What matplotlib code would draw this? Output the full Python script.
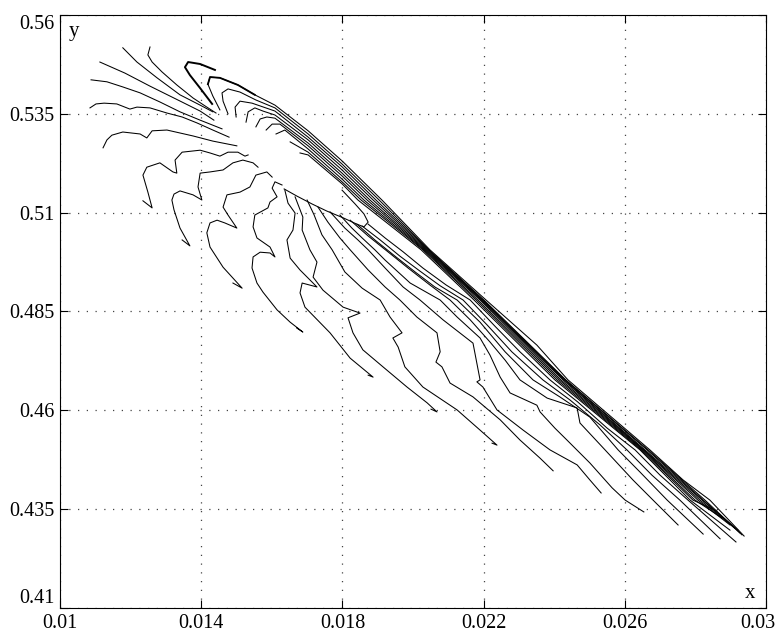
import matplotlib.pyplot as plt
from matplotlib.transforms import ScaledTranslation

plt.rcParams['font.family'] = ['Liberation Serif', 'DejaVu Serif']

# axis ticks
x_ticks = [0.01, 0.014, 0.018, 0.022, 0.026, 0.03]
x_labels = ['0.01', '0.014', '0.018', '0.022', '0.026', '0.03']
y_ticks = [0.41, 0.435, 0.46, 0.485, 0.51, 0.535, 0.56]
y_labels = ['0.41', '0.435', '0.46', '0.485', '0.51', '0.535', '0.56']

# --- trajectories coming in from the far left (end on the hole edge)
l1_x = [0.01178, 0.01218, 0.01275, 0.01340, 0.01397, 0.01433]
l1_y = [0.5517, 0.5481, 0.5441, 0.5398, 0.5372, 0.5355]
l2_x = [0.01255, 0.01249, 0.01261, 0.01289, 0.01331, 0.01377, 0.01416, 0.01442]
l2_y = [0.5519, 0.5499, 0.5481, 0.5456, 0.5423, 0.5390, 0.5367, 0.5352]
l3_x = [0.01113, 0.01184, 0.01255, 0.01334, 0.01397, 0.01436]
l3_y = [0.5481, 0.5453, 0.5420, 0.5385, 0.5357, 0.5334]
l4_x = [0.01088, 0.01133, 0.01178, 0.01227, 0.01283, 0.01340, 0.01397, 0.01459]
l4_y = [0.5436, 0.5431, 0.5418, 0.5403, 0.5380, 0.5355, 0.5334, 0.5312]
l5_x = [0.01085, 0.01102, 0.01125, 0.01161, 0.01198, 0.01218, 0.01255, 0.01303,
        0.01346, 0.01388, 0.01433, 0.01479]
l5_y = [0.5365, 0.5375, 0.5377, 0.5375, 0.5362, 0.5367, 0.5365, 0.5352,
        0.5342, 0.5327, 0.5309, 0.5291]
l6_x = [0.01122, 0.01133, 0.01147, 0.01178, 0.01227, 0.01246, 0.01261, 0.01303,
        0.01377, 0.01433, 0.01501]
l6_y = [0.5264, 0.5284, 0.5296, 0.5304, 0.5299, 0.5289, 0.5307, 0.5309,
        0.5294, 0.5281, 0.5269]

# --- wiggly trajectories below the hole, ending bottom-left to bottom-right
m1_x = [0.01235, 0.01261, 0.01249, 0.01235, 0.01246, 0.01283, 0.01320, 0.01331, 0.01326,
        0.01346, 0.01397, 0.01425, 0.01453, 0.01476, 0.01504, 0.01524, 0.01533]
m1_y = [0.5130, 0.5112, 0.5152, 0.5195, 0.5215, 0.5226, 0.5203, 0.5200, 0.5233,
        0.5253, 0.5258, 0.5251, 0.5243, 0.5253, 0.5253, 0.5243, 0.5246]
m2_x = [0.01346, 0.01368, 0.01340, 0.01323, 0.01317, 0.01323, 0.01340, 0.01377, 0.01402,
        0.01391, 0.01397, 0.01425, 0.01462, 0.01490, 0.01518, 0.01547, 0.01561]
m2_y = [0.5031, 0.5016, 0.5061, 0.5107, 0.5132, 0.5147, 0.5155, 0.5145, 0.5132,
        0.5165, 0.5200, 0.5203, 0.5208, 0.5226, 0.5233, 0.5226, 0.5215]
m3_x = [0.01490, 0.01516, 0.01462, 0.01425, 0.01416, 0.01425, 0.01445, 0.01467, 0.01501,
        0.01476, 0.01462, 0.01473, 0.01510, 0.01538, 0.01555, 0.01586, 0.01601]
m3_y = [0.4922, 0.4909, 0.4962, 0.5013, 0.5049, 0.5074, 0.5081, 0.5074, 0.5061,
        0.5094, 0.5114, 0.5145, 0.5152, 0.5165, 0.5195, 0.5203, 0.5190]
m4_x = [0.01671, 0.01688, 0.01652, 0.01615, 0.01575, 0.01558, 0.01544, 0.01547, 0.01567,
        0.01595, 0.01609, 0.01595, 0.01558, 0.01547, 0.01552, 0.01589, 0.01595, 0.01615,
        0.01601, 0.01609, 0.01629]
m4_y = [0.4808, 0.4798, 0.4823, 0.4854, 0.4899, 0.4922, 0.4960, 0.4988, 0.5000,
        0.4998, 0.4988, 0.5013, 0.5036, 0.5064, 0.5094, 0.5112, 0.5127, 0.5140,
        0.5162, 0.5178, 0.5170]
m5_x = [0.01873, 0.01887, 0.01822, 0.01765, 0.01694, 0.01680, 0.01686, 0.01728, 0.01680,
        0.01652, 0.01643, 0.01660, 0.01666, 0.01646, 0.01637]
m5_y = [0.4689, 0.4684, 0.4732, 0.4796, 0.4861, 0.4897, 0.4922, 0.4912, 0.4955,
        0.4985, 0.5031, 0.5056, 0.5099, 0.5124, 0.5157]
m6_x = [0.01666, 0.01688, 0.01686, 0.01708, 0.01728, 0.01717, 0.01745, 0.01802, 0.01850,
        0.01816, 0.01830, 0.01858, 0.01915, 0.01983, 0.02040, 0.02068, 0.02051]
m6_y = [0.5140, 0.5089, 0.5056, 0.5006, 0.4975, 0.4937, 0.4904, 0.4861, 0.4846,
        0.4834, 0.4796, 0.4753, 0.4710, 0.4659, 0.4619, 0.4596, 0.4603]
m7_x = [0.01700, 0.01720, 0.01742, 0.01771, 0.01807, 0.01856, 0.01907, 0.01935, 0.01969,
        0.01943, 0.01958, 0.01977, 0.02028, 0.02125, 0.02190, 0.02238, 0.02224]
m7_y = [0.5132, 0.5094, 0.5044, 0.5006, 0.4950, 0.4909, 0.4879, 0.4836, 0.4796,
        0.4783, 0.4760, 0.4710, 0.4659, 0.4601, 0.4550, 0.4512, 0.4517]
m8_x = [0.01731, 0.01759, 0.01793, 0.01822, 0.01873, 0.01921, 0.01963, 0.02011, 0.02068,
        0.02077, 0.02065, 0.02082, 0.02105, 0.02170, 0.02247, 0.02303, 0.02360, 0.02397]
m8_y = [0.5114, 0.5076, 0.5036, 0.5006, 0.4955, 0.4912, 0.4879, 0.4836, 0.4796,
        0.4748, 0.4722, 0.4710, 0.4669, 0.4634, 0.4576, 0.4525, 0.4479, 0.4447]
m9_x = [0.01765, 0.01807, 0.01844, 0.01873, 0.01921, 0.01972, 0.02020, 0.02085, 0.02170,
        0.02190, 0.02181, 0.02198, 0.02238, 0.02312, 0.02388, 0.02465, 0.02501, 0.02533]
m9_y = [0.5102, 0.5061, 0.5031, 0.5006, 0.4960, 0.4912, 0.4879, 0.4829, 0.4770,
        0.4677, 0.4672, 0.4659, 0.4601, 0.4550, 0.4500, 0.4462, 0.4424, 0.4391]
m10_x = [0.01793, 0.01827, 0.01856, 0.01892, 0.01921, 0.01992, 0.02077, 0.02125, 0.02190,
         0.02218, 0.02247, 0.02275, 0.02351, 0.02360, 0.02402, 0.02436, 0.02501, 0.02564,
         0.02601, 0.02654]
m10_y = [0.5094, 0.5061, 0.5036, 0.5006, 0.4980, 0.4922, 0.4879, 0.4836, 0.4783,
         0.4740, 0.4684, 0.4644, 0.4613, 0.4596, 0.4555, 0.4525, 0.4467, 0.4404,
         0.4373, 0.4343]
m11_x = [0.01822, 0.01873, 0.01929, 0.01986, 0.02048, 0.02105, 0.02162, 0.02218, 0.02261,
         0.02303, 0.02380, 0.02465, 0.02473, 0.02544, 0.02623, 0.02680, 0.02751]
m11_y = [0.5081, 0.5041, 0.5001, 0.4960, 0.4917, 0.4879, 0.4829, 0.4773, 0.4727,
         0.4677, 0.4631, 0.4606, 0.4568, 0.4500, 0.4424, 0.4373, 0.4310]
m12_x = [0.01841, 0.01892, 0.01949, 0.02006, 0.02062, 0.02125, 0.02190, 0.02261, 0.02340,
         0.02416, 0.02501, 0.02581, 0.02643, 0.02720, 0.02822]
m12_y = [0.5071, 0.5031, 0.4990, 0.4950, 0.4912, 0.4879, 0.4823, 0.4748, 0.4677,
         0.4634, 0.4583, 0.4500, 0.4444, 0.4373, 0.4287]
m13_x = [0.01856, 0.01907, 0.01963, 0.02020, 0.02077, 0.02142, 0.02210, 0.02280, 0.02368,
         0.02445, 0.02530, 0.02606, 0.02677, 0.02756, 0.02870]
m13_y = [0.5066, 0.5031, 0.4990, 0.4952, 0.4915, 0.4879, 0.4816, 0.4748, 0.4677,
         0.4626, 0.4563, 0.4500, 0.4436, 0.4373, 0.4275]
m14_x = [0.01873, 0.01921, 0.01972, 0.02028, 0.02094, 0.02162, 0.02232, 0.02303, 0.02388,
         0.02467, 0.02550, 0.02629, 0.02700, 0.02779, 0.02915]
m14_y = [0.5071, 0.5036, 0.5001, 0.4960, 0.4917, 0.4879, 0.4813, 0.4748, 0.4677,
         0.4621, 0.4555, 0.4500, 0.4436, 0.4373, 0.4267]

# --- loop closing the hole at its lower right
loop_x = [0.01635, 0.01671, 0.01714, 0.01756, 0.01802, 0.01841, 0.01861, 0.01873,
          0.01861, 0.01836, 0.01799]
loop_y = [0.5160, 0.5142, 0.5122, 0.5104, 0.5087, 0.5071, 0.5064, 0.5076,
          0.5097, 0.5122, 0.5157]

# --- hooked trajectories forming the dense bundle over the hole
f1_x = [0.01431, 0.01397, 0.01368, 0.01354, 0.01363, 0.01397, 0.01439]
f1_y = [0.5375, 0.5415, 0.5448, 0.5468, 0.5481, 0.5476, 0.5461]
f2_x = [0.01453, 0.01433, 0.01419, 0.01425, 0.01453, 0.01504, 0.01552, 0.01609, 0.01703,
        0.01799, 0.01912, 0.02048, 0.02207, 0.02351, 0.02439, 0.02595, 0.02671, 0.02765,
        0.02841, 0.02938]
f2_y = [0.5360, 0.5395, 0.5425, 0.5443, 0.5441, 0.5423, 0.5398, 0.5372, 0.5307,
        0.5231, 0.5132, 0.5006, 0.4879, 0.4765, 0.4677, 0.4558, 0.4500, 0.4424,
        0.4373, 0.4282]
f3_x = [0.01476, 0.01462, 0.01459, 0.01476, 0.01510, 0.01555, 0.01609, 0.01703, 0.01799,
        0.01904, 0.02045, 0.02201, 0.02433, 0.02666, 0.02827, 0.02932]
f3_y = [0.5350, 0.5382, 0.5403, 0.5413, 0.5405, 0.5385, 0.5365, 0.5299, 0.5223,
        0.5132, 0.5006, 0.4879, 0.4677, 0.4500, 0.4373, 0.4285]
f4_x = [0.01499, 0.01496, 0.01510, 0.01544, 0.01609, 0.01703, 0.01799, 0.01895, 0.02043,
        0.02198, 0.02431, 0.02663, 0.02822, 0.02926]
f4_y = [0.5342, 0.5367, 0.5382, 0.5377, 0.5357, 0.5291, 0.5216, 0.5132, 0.5006,
        0.4879, 0.4677, 0.4500, 0.4373, 0.4290]
f5_x = [0.01527, 0.01533, 0.01552, 0.01575, 0.01609, 0.01703, 0.01799, 0.01887, 0.02040,
        0.02196, 0.02428, 0.02657, 0.02819, 0.02921]
f5_y = [0.5329, 0.5355, 0.5365, 0.5357, 0.5347, 0.5284, 0.5208, 0.5132, 0.5006,
        0.4879, 0.4677, 0.4500, 0.4373, 0.4297]
f6_x = [0.01555, 0.01567, 0.01586, 0.01609, 0.01703, 0.01799, 0.01878, 0.02037, 0.02193,
        0.02425, 0.02654, 0.02813, 0.02912]
f6_y = [0.5317, 0.5337, 0.5342, 0.5339, 0.5276, 0.5200, 0.5132, 0.5006, 0.4879,
        0.4677, 0.4500, 0.4373, 0.4302]
f7_x = [0.01584, 0.01601, 0.01623, 0.01703, 0.01799, 0.01870, 0.02034, 0.02190, 0.02419,
        0.02652, 0.02807, 0.02898]
f7_y = [0.5309, 0.5324, 0.5324, 0.5269, 0.5193, 0.5132, 0.5006, 0.4879, 0.4677,
        0.4500, 0.4373, 0.4310]
f8_x = [0.01612, 0.01637, 0.01703, 0.01799, 0.01861, 0.02031, 0.02184, 0.02414, 0.02649,
        0.02799, 0.02875]
f8_y = [0.5299, 0.5309, 0.5261, 0.5185, 0.5132, 0.5006, 0.4879, 0.4677, 0.4500,
        0.4373, 0.4328]
f9_x = [0.01652, 0.01703, 0.01799, 0.01853, 0.02028, 0.02179, 0.02408, 0.02646, 0.02793,
        0.02861]
f9_y = [0.5279, 0.5253, 0.5178, 0.5132, 0.5006, 0.4879, 0.4677, 0.4500, 0.4373, 0.4345]
f10_x = [0.01680, 0.01703, 0.01799, 0.01844, 0.02023, 0.02173, 0.02402, 0.02643, 0.02785,
         0.02898]
f10_y = [0.5251, 0.5246, 0.5173, 0.5132, 0.5006, 0.4879, 0.4677, 0.4500, 0.4373, 0.4297]

curves = [
    (l1_x, l1_y), (l2_x, l2_y), (l3_x, l3_y), (l4_x, l4_y), (l5_x, l5_y), (l6_x, l6_y),
    (m1_x, m1_y), (m2_x, m2_y), (m3_x, m3_y), (m4_x, m4_y), (m5_x, m5_y), (m6_x, m6_y),
    (m7_x, m7_y), (m8_x, m8_y), (m9_x, m9_y), (m10_x, m10_y), (m11_x, m11_y),
    (m12_x, m12_y), (m13_x, m13_y), (m14_x, m14_y), (loop_x, loop_y),
    (f2_x, f2_y), (f3_x, f3_y), (f4_x, f4_y), (f5_x, f5_y), (f6_x, f6_y),
    (f7_x, f7_y), (f8_x, f8_y), (f9_x, f9_y), (f10_x, f10_y),
]

fig = plt.figure(figsize=(7.79, 6.35), dpi=100)
ax = fig.add_axes([0.077, 0.0425, 0.9063, 0.9339])

for cx, cy in curves:
    ax.plot(cx, cy, color='black', linewidth=0.75)
# outer hook is drawn heavier in the original
ax.plot(f1_x, f1_y, color='black', linewidth=1.4)
ax.plot(f2_x[2:7], f2_y[2:7], color='black', linewidth=1.3)

ax.set_xlim(0.01, 0.03)
ax.set_ylim(0.41, 0.56)
ax.set_xticks(x_ticks)
ax.set_xticklabels(x_labels)
ax.set_yticks(y_ticks)
ax.set_yticklabels(y_labels)
ax.tick_params(direction='in', length=6, width=0.8, top=True, right=True,
               labelsize=14.5, colors='black', pad=4)
ax.grid(True, color='#444444', linestyle=(0, (1, 6)), linewidth=0.9)

for sp in ax.spines.values():
    sp.set_linewidth(0.8)

# nudge end labels so they stay inside the canvas like the original
ylabs = ax.get_yticklabels()
ylabs[0].set_verticalalignment('bottom')
ylabs[-1].set_verticalalignment('top')
xlabs = ax.get_xticklabels()
xlabs[-1].set_transform(xlabs[-1].get_transform() +
                        ScaledTranslation(-6 / 72, 0, fig.dpi_scale_trans))

ax.text(0.012, 0.988, 'y', transform=ax.transAxes, fontsize=15, va='top', ha='left')
ax.text(0.985, 0.008, 'x', transform=ax.transAxes, fontsize=15, va='bottom', ha='right')

fig.savefig('out.png', dpi=100)
